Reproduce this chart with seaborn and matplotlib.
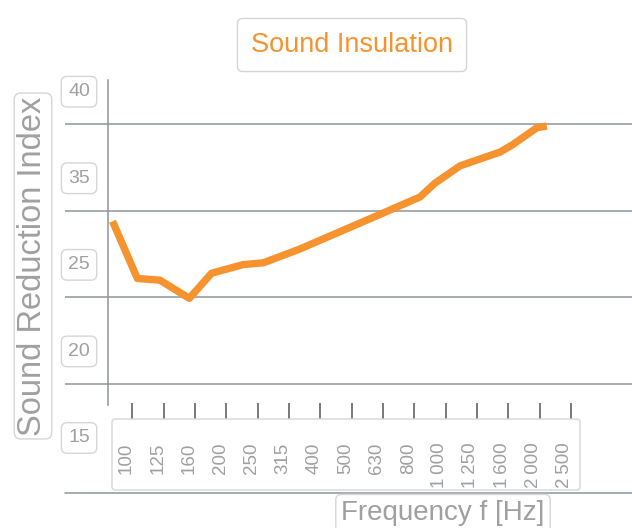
import matplotlib
matplotlib.use('Agg')
import matplotlib.pyplot as plt
import matplotlib.transforms as mtransforms
from matplotlib.patches import FancyBboxPatch
from matplotlib.lines import Line2D
import seaborn as sns

# ── Data ───────────────────────────────────────────────────────────────────────
freq_labels = ['100', '125', '160', '200', '250', '315', '400', '500', '630',
               '800', '1\u2009000', '1\u2009250', '1\u2009600', '2\u2009000',
               '2\u2009500']
# curve position along the band axis (band index) and reduction index values
curve_band = [-0.63, 0.16, 0.88, 1.82, 2.53, 3.54, 4.18, 5.35, 6.63, 7.91,
              8.54, 9.18, 9.66, 10.46, 11.74, 12.12, 12.91, 13.23]
curve_r = [29.4, 26.1, 26.0, 24.95, 26.4, 26.9, 27.0, 27.8, 28.8, 29.8,
           30.3, 30.8, 31.6, 32.6, 33.4, 33.8, 34.8, 34.9]
grid_values = [20, 25, 30, 35]
ytick_pos = [17, 22, 27, 32, 37]
ytick_labels = ['15', '20', '25', '35', '40']

ORANGE = '#f7932f'
GRAY_TXT = '#a0a0a0'
GRID = '#8e949a'
BOX_EC = '#d6d6d6'

sns.set_style('white')
plt.rcParams['font.family'] = ['Liberation Sans', 'DejaVu Sans']

W, H = 632, 528
fig = plt.figure(figsize=(W / 100, H / 100), dpi=100)

# axes spans px x 65..632, y 80..445 (top-down)
ax = fig.add_axes([65 / W, (H - 445) / H, (W - 65) / W, (445 - 80) / H])
ax.set_xlim(-2.148, 15.95)
ax.set_ylim(16.48, 37.56)

for v in grid_values:
    ax.axhline(v, color=GRID, lw=1.1, zorder=1)

sns.lineplot(x=curve_band, y=curve_r, sort=False, color=ORANGE, lw=5.3,
             ax=ax, zorder=3, solid_joinstyle='round', solid_capstyle='butt')

# spines
for s in ['top', 'right']:
    ax.spines[s].set_visible(False)
ax.spines['left'].set_position(('data', -0.776))
ax.spines['left'].set_bounds(18.79, 37.56)
ax.spines['left'].set_color(GRID)
ax.spines['left'].set_linewidth(1.1)
ax.spines['bottom'].set_position(('data', 17.98))
ax.spines['bottom'].set_color('none')

# x ticks
ax.set_xticks(range(len(freq_labels)))
ax.set_xticklabels(freq_labels, rotation=90, fontsize=13.5, color=GRAY_TXT)
ax.tick_params(axis='x', direction='in', length=11.5, width=1.1,
               color='#555555', pad=17, bottom=True)
shift = mtransforms.ScaledTranslation(-0.06, 0, fig.dpi_scale_trans)
for lab in ax.get_xticklabels():
    lab.set_transform(lab.get_transform() + shift)

# y ticks (labels sit between the gridlines)
ax.set_yticks(ytick_pos)
ax.set_yticklabels(ytick_labels, fontsize=14, color=GRAY_TXT)
ax.tick_params(axis='y', length=0, pad=13, left=True)
for lab in ax.get_yticklabels():
    lab.set_bbox(dict(boxstyle='round,pad=0.35,rounding_size=0.3', fc='white',
                      ec=BOX_EC, lw=1))
ax.set_xlabel('')
ax.set_ylabel('')

# box around frequency labels
fig.add_artist(FancyBboxPatch((112 / W, (H - 490) / H), 468 / W, 71 / H,
                              boxstyle='round,pad=0,rounding_size=0.006',
                              transform=fig.transFigure, fc='none',
                              ec=BOX_EC, lw=1))
# bottom rule
fig.add_artist(Line2D([65 / W, 1], [(H - 493) / H] * 2,
                      transform=fig.transFigure, color=GRID, lw=1.1))

# titles
fig.text(352 / W, 1 - 45 / H, 'Sound Insulation', color=ORANGE, fontsize=19.5,
         ha='center', va='center',
         bbox=dict(boxstyle='round,pad=0.5,rounding_size=0.2', fc='white',
                   ec=BOX_EC, lw=1))
fig.text(33 / W, 1 - 266 / H, 'Sound Reduction Index', color=GRAY_TXT,
         fontsize=23.5, rotation=90, ha='center', va='center',
         bbox=dict(boxstyle='round,pad=0.1,rounding_size=0.2', fc='white',
                   ec=BOX_EC, lw=1))
fig.text(443 / W, 1 - 513 / H, 'Frequency f [Hz]', color=GRAY_TXT,
         fontsize=20, ha='center', va='center',
         bbox=dict(boxstyle='round,pad=0.2,rounding_size=0.2', fc='white',
                   ec=BOX_EC, lw=1))

fig.savefig('out.png', dpi=100)
